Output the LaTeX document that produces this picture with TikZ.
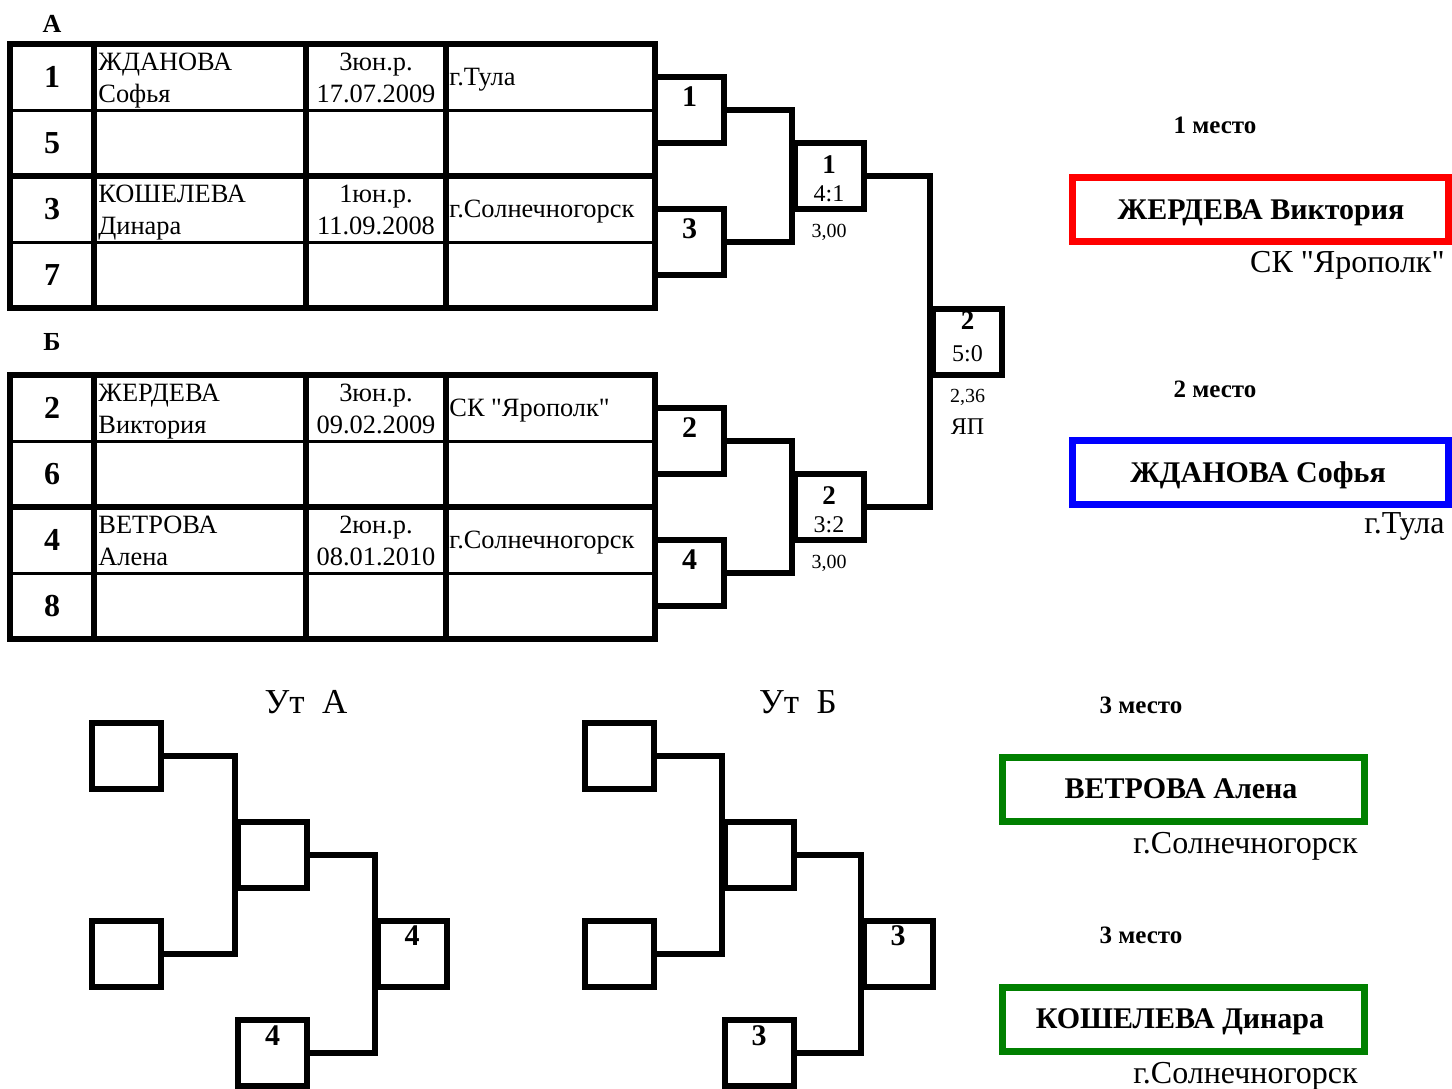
\documentclass[tikz,border=0pt]{standalone}
\usepackage{fontspec}
\setmainfont{Liberation Serif}[Ligatures=TeXOff]
\usetikzlibrary{calc}
\begin{document}
\begin{tikzpicture}[x=0.5pt,y=-0.5pt,
  thickline/.style={line width=3pt},
  thinline/.style={line width=1.5pt},
  bbox/.style={draw,rectangle,line width=3pt,minimum width=34.5pt,minimum height=33pt,inner sep=0pt},
  conn/.style={line width=3pt,line join=miter},
  tx/.style={inner sep=0pt,anchor=base},
  txw/.style={inner sep=0pt,anchor=base west},
  txe/.style={inner sep=0pt,anchor=base east},
  reg/.style={font=\fontsize{13.2}{15}\selectfont},
  seed/.style={tx,font=\fontsize{16}{18}\selectfont\bfseries},
  bnum/.style={tx,font=\fontsize{15}{17}\selectfont\bfseries},
  snum/.style={tx,font=\fontsize{13.5}{15}\selectfont\bfseries},
  score/.style={tx,font=\fontsize{12}{14}\selectfont},
  small/.style={tx,font=\fontsize{10}{12}\selectfont},
  grp/.style={tx,font=\fontsize{13}{15}\selectfont\bfseries},
  place/.style={tx,font=\fontsize{12.5}{14}\selectfont\bfseries},
  winner/.style={tx,font=\fontsize{15}{17}\selectfont\bfseries},
  club/.style={txe,font=\fontsize{16}{18}\selectfont},
  ut/.style={tx,font=\fontsize{17.5}{19}\selectfont},
  pbox/.style={draw,rectangle,line width=3.5pt,minimum width=188pt,minimum height=32pt,inner sep=0pt},
  gbox/.style={draw,rectangle,line width=3.5pt,minimum width=181pt,minimum height=32pt,inner sep=0pt}
]
\useasboundingbox (0,0) rectangle (1452,1088);
\definecolor{pgreen}{RGB}{0,128,0}

% ---------- group labels
\node[grp] (gA) at (52,32) {А};
\node[grp] (gB) at (52,350) {Б};

% ---------- table A
\draw[thickline] (10,44) rectangle (655,308);
\draw[thickline] (94,44) -- (94,308);
\draw[thickline] (306,44) -- (306,308);
\draw[thickline] (446,44) -- (446,308);
\draw[thickline] (10,176) -- (655,176);
\draw[thinline] (10,110) -- (655,110);
\draw[thinline] (10,242) -- (655,242);

\node[seed] (sa1) at (52,87) {1};
\node[seed] (sa5) at (52,153) {5};
\node[seed] (sa3) at (52,219) {3};
\node[seed] (sa7) at (52,285) {7};

\node[txw,reg] (na1) at (98,70) {ЖДАНОВА};
\node[txw,reg] (na1b) at (98,102) {Софья};
\node[tx,reg] (da1) at (376,70) {3юн.р.};
\node[tx,reg] (da1b) at (376,102) {17.07.2009};
\node[txw,reg] (ca1) at (449,85) {г.Тула};

\node[txw,reg] (na3) at (98,202) {КОШЕЛЕВА};
\node[txw,reg] (na3b) at (98,234) {Динара};
\node[tx,reg] (da3) at (376,202) {1юн.р.};
\node[tx,reg] (da3b) at (376,234) {11.09.2008};
\node[txw,reg] (ca3) at (449,217) {г.Солнечногорск};

% ---------- table B
\draw[thickline] (10,375) rectangle (655,639);
\draw[thickline] (94,375) -- (94,639);
\draw[thickline] (306,375) -- (306,639);
\draw[thickline] (446,375) -- (446,639);
\draw[thickline] (10,507) -- (655,507);
\draw[thinline] (10,441) -- (655,441);
\draw[thinline] (10,573) -- (655,573);

\node[seed] (sb2) at (52,418) {2};
\node[seed] (sb6) at (52,484) {6};
\node[seed] (sb4) at (52,550) {4};
\node[seed] (sb8) at (52,616) {8};

\node[txw,reg] (nb2) at (98,401) {ЖЕРДЕВА};
\node[txw,reg] (nb2b) at (98,433) {Виктория};
\node[tx,reg] (db2) at (376,401) {3юн.р.};
\node[tx,reg] (db2b) at (376,433) {09.02.2009};
\node[txw,reg] (cb2) at (449,416) {СК "Ярополк"};

\node[txw,reg] (nb4) at (98,533) {ВЕТРОВА};
\node[txw,reg] (nb4b) at (98,565) {Алена};
\node[tx,reg] (db4) at (376,533) {2юн.р.};
\node[tx,reg] (db4b) at (376,565) {08.01.2010};
\node[txw,reg] (cb4) at (449,548) {г.Солнечногорск};

% ---------- main bracket
\node[bbox] (r1) at (689.5,110) {};
\node[bbox] (r3) at (689.5,242) {};
\node[bbox] (r2) at (689.5,441) {};
\node[bbox] (r4) at (689.5,573) {};
\node[bbox] (s1) at (829,176) {};
\node[bbox] (s2) at (829,507) {};
\node[bbox] (fi) at (967.5,341.5) {};

\draw[conn] (r1.east) -- (r1.east -| s1.west) -- (r3.east -| s1.west) -- (r3.east);
\draw[conn] (r2.east) -- (r2.east -| s2.west) -- (r4.east -| s2.west) -- (r4.east);
\draw[conn] (s1.east) -- (s1.east -| fi.west) -- (s2.east -| fi.west) -- (s2.east);

\node[bnum] (tr1) at ($(r1.north)+(0,32)$) {1};
\node[bnum] (tr3) at ($(r3.north)+(0,32)$) {3};
\node[bnum] (tr2) at ($(r2.north)+(0,32)$) {2};
\node[bnum] (tr4) at ($(r4.north)+(0,32)$) {4};

\node[snum] (ts1) at ($(s1.north)+(0,33)$) {1};
\node[score] (ss1) at ($(s1.north)+(0,61)$) {4:1};
\node[small] (ps1) at ($(s1.south)+(0,25)$) {3,00};
\node[snum] (ts2) at ($(s2.north)+(0,33)$) {2};
\node[score] (ss2) at ($(s2.north)+(0,61)$) {3:2};
\node[small] (ps2) at ($(s2.south)+(0,25)$) {3,00};

\node[snum] (tf) at ($(fi.north)+(0,24)$) {2};
\node[score] (sf) at ($(fi.north)+(0,56)$) {5:0};
\node[small] (pf) at ($(fi.south)+(0,25)$) {2,36};
\node[score] (jf) at ($(fi.south)+(0,57)$) {ЯП};

% ---------- consolation A
\node[ut] (utA) at (306,713) {Ут~~А};
\node[bbox] (ua1) at (126.5,756) {};
\node[bbox] (ua2) at (126.5,954) {};
\node[bbox] (uas) at (272.5,855) {};
\node[bbox] (uaf) at (412,954) {};
\node[bbox] (uab) at (272.5,1053) {};
\draw[conn] (ua1.east) -- (ua1.east -| uas.west) -- (ua2.east -| uas.west) -- (ua2.east);
\draw[conn] (uas.east) -- (uas.east -| uaf.west) -- (uab.east -| uaf.west) -- (uab.east);
\node[bnum] (tuaf) at ($(uaf.north)+(0,27)$) {4};
\node[bnum] (tuab) at ($(uab.north)+(0,28)$) {4};

% ---------- consolation B
\node[ut] (utB) at (798,713) {Ут~~Б};
\node[bbox] (ub1) at (619,756) {};
\node[bbox] (ub2) at (619,954) {};
\node[bbox] (ubs) at (759,855) {};
\node[bbox] (ubf) at (898,954) {};
\node[bbox] (ubb) at (759,1053) {};
\draw[conn] (ub1.east) -- (ub1.east -| ubs.west) -- (ub2.east -| ubs.west) -- (ub2.east);
\draw[conn] (ubs.east) -- (ubs.east -| ubf.west) -- (ubb.east -| ubf.west) -- (ubb.east);
\node[bnum] (tubf) at ($(ubf.north)+(0,27)$) {3};
\node[bnum] (tubb) at ($(ubb.north)+(0,28)$) {3};

% ---------- places
\node[place] (pl1) at (1215,133) {1 место};
\node[pbox,draw=red] (w1) at (1260,209) {};
\node[winner] (w1t) at (1261,219) {ЖЕРДЕВА Виктория};
\node[club] (w1c) at (1445,272) {СК "Ярополк"};

\node[place] (pl2) at (1215,397) {2 место};
\node[pbox,draw=blue] (w2) at (1260,472.5) {};
\node[winner] (w2t) at (1258,482) {ЖДАНОВА Софья};
\node[club] (w2c) at (1445,533) {г.Тула};

\node[place] (pl3) at (1141,713) {3 место};
\node[gbox,draw=pgreen] (w3) at (1183,789) {};
\node[winner] (w3t) at (1181,798) {ВЕТРОВА Алена};
\node[club] (w3c) at (1358,853) {г.Солнечногорск};

\node[place] (pl4) at (1141,943) {3 место};
\node[gbox,draw=pgreen] (w4) at (1183,1019) {};
\node[winner] (w4t) at (1180,1028) {КОШЕЛЕВА Динара};
\node[club] (w4c) at (1358,1083) {г.Солнечногорск};
\end{tikzpicture}
\end{document}
